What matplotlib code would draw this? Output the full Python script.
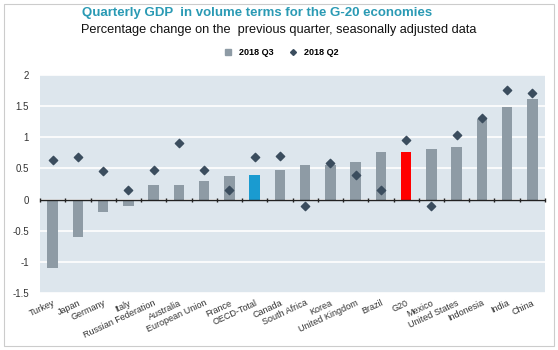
import numpy as np
import matplotlib.pyplot as plt
from matplotlib.lines import Line2D
from matplotlib.patches import Rectangle

countries = ['Turkey', 'Japan', 'Germany', 'Italy', 'Russian Federation', 'Australia',
             'European Union', 'France', 'OECD-Total', 'Canada', 'South Africa', 'Korea',
             'United Kingdom', 'Brazil', 'G20', 'Mexico', 'United States', 'Indonesia',
             'India', 'China']
q3 = [-1.1, -0.6, -0.2, -0.1, 0.24, 0.24, 0.3, 0.38, 0.39, 0.48, 0.55, 0.55,
      0.6, 0.76, 0.76, 0.81, 0.85, 1.3, 1.48, 1.61]
q2 = [0.63, 0.69, 0.46, 0.16, 0.48, 0.9, 0.48, 0.15, 0.69, 0.7, -0.11, 0.58,
      0.4, 0.16, 0.96, -0.11, 1.03, 1.31, 1.76, 1.71]
yticks = [-1.5, -1, -0.5, 0, 0.5, 1, 1.5, 2]
ytick_labels = ['-1.5', '-1', '-0.5', '0', '0.5', '1', '1.5', '2']

grey = '#8e9ba5'
colors = [grey] * len(countries)
colors[countries.index('OECD-Total')] = '#1a9bd0'
colors[countries.index('G20')] = '#ff0000'

plt.rcParams['font.family'] = ['Liberation Sans', 'DejaVu Sans']

fig = plt.figure(figsize=(5.58, 3.5), dpi=100)
ax = fig.add_axes([0.0717, 0.163, 0.905, 0.623])
ax.set_facecolor('#dde6ed')

x = np.arange(len(countries))
ax.bar(x, q3, width=0.42, color=colors, zorder=3)
ax.scatter(x, q2, marker='D', s=18, color='#3b4d5e', zorder=4)

ax.set_xlim(-0.5, len(countries) - 0.5)
ax.set_ylim(-1.5, 2)
ax.set_yticks(yticks)
ax.set_yticklabels(ytick_labels, fontsize=7, color='#333333')
ax.yaxis.grid(True, color='white', linewidth=1.2, zorder=1)
ax.set_axisbelow(True)
ax.tick_params(axis='y', length=0, pad=8)

ax.set_xticks(x)
ax.set_xticklabels(countries, rotation=25, ha='right', rotation_mode='anchor',
                   fontsize=6.5, color='#333333')
ax.tick_params(axis='x', length=0, pad=4)

for s in ax.spines.values():
    s.set_visible(False)

ax.axhline(0, color='#222222', linewidth=1, zorder=5)
ax.plot(np.arange(len(countries) + 1) - 0.5, np.zeros(len(countries) + 1), '|',
        color='#222222', markersize=3, zorder=5, clip_on=False)

fig.text(0.46, 0.964, 'Quarterly GDP  in volume terms for the G-20 economies',
         ha='center', va='center', fontsize=9.5, fontweight='bold', color='#2a9ab4')
fig.text(0.5, 0.914, 'Percentage change on the  previous quarter, seasonally adjusted data',
         ha='center', va='center', fontsize=9.2, color='#111111')

handles = [Line2D([], [], marker='s', linestyle='none', color=grey, markersize=4),
           Line2D([], [], marker='D', linestyle='none', color='#3b4d5e', markersize=3)]
fig.legend(handles, ['2018 Q3', '2018 Q2'], loc='center', bbox_to_anchor=(0.5, 0.85),
           ncol=2, frameon=False, handletextpad=0.2, columnspacing=1.2,
           prop={'weight': 'bold', 'size': 6.5})

fig.patches.append(Rectangle((0.008, 0.012), 0.984, 0.976, transform=fig.transFigure,
                             fill=False, edgecolor='#cccccc', linewidth=0.8))

fig.savefig('out.png', dpi=100)
